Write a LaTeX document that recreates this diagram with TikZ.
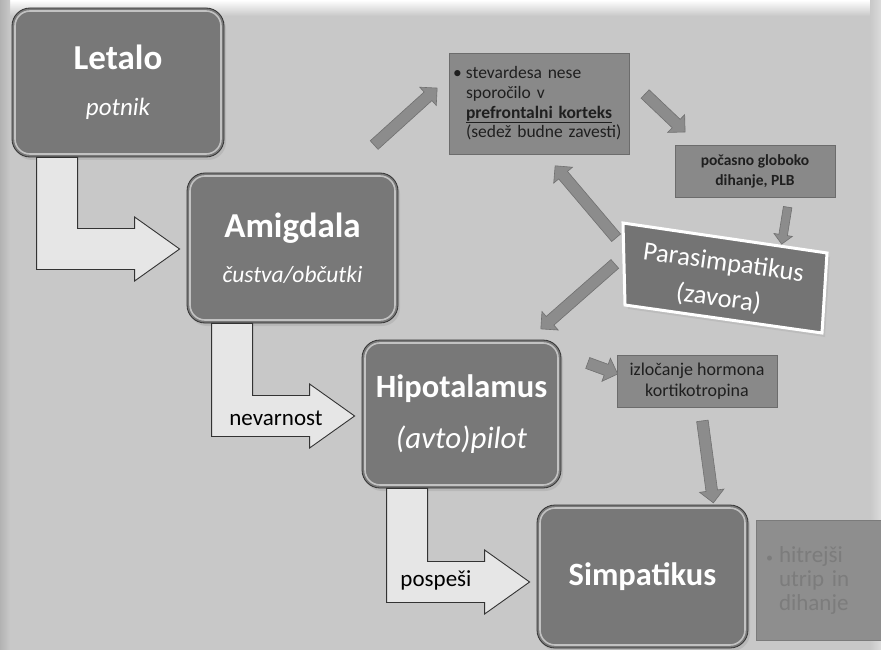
\documentclass[tikz,border=0pt]{standalone}
\usepackage{fontspec}
\setmainfont{Carlito}
\usetikzlibrary{calc,shapes.arrows,shadows}

\definecolor{bgc}{HTML}{C8C8C8}
\definecolor{boxc}{HTML}{787878}
\definecolor{notec}{HTML}{898989}
\definecolor{noteline}{HTML}{6C6C6C}
\definecolor{arrowc}{HTML}{8C8C8C}
\definecolor{arrowline}{HTML}{707070}
\definecolor{elbowc}{HTML}{E6E6E6}
\definecolor{fadedtext}{HTML}{7C7C7C}

\tikzset{
  bigbox/.style={rounded corners=18pt, draw=black!80, line width=0.8pt,
    fill=boxc, text=white, align=center, inner sep=0pt,
    drop shadow={shadow xshift=2pt, shadow yshift=-3pt, fill=black!35, opacity=0.45},
    path picture={\draw[white!55!boxc, line width=1.6pt, rounded corners=15pt]
      ([shift={(3,3)}]path picture bounding box.north west) rectangle
      ([shift={(-3,-3)}]path picture bounding box.south east);}},
  notebox/.style={draw=noteline, fill=notec, line width=0.8pt, text=black!88,
    inner sep=0pt, align=center},
  elbowarrow/.style={draw=black!80, fill=elbowc, line width=0.9pt, line join=miter},
  grayarrow/.style={single arrow, draw=arrowline, fill=arrowc, line width=0.6pt,
    inner xsep=0pt, inner ysep=5.5pt, text height=0pt, text depth=0pt, text width=0pt,
    single arrow head extend=6.5pt, single arrow head indent=0pt, minimum width=0pt},
  thinarrow/.style={inner ysep=4pt, single arrow head extend=5pt},
  elbowlabel/.style={text=black, font=\fontsize{23}{26}\selectfont, inner sep=0pt},
}

% block arrow laid between two named points
\newcommand{\blockarrow}[3][]{%
  \path let \p1=($(#3)-(#2)$), \n1={atan2(\y1,\x1)}, \n2={veclen(\x1,\y1)} in
    node[grayarrow,#1,minimum height=\n2,rotate=\n1] at ($(#2)!0.5!(#3)$) {};}

% bent block arrow from the bottom of one box into the left side of the next
\newcommand{\elbow}[3]{%
  \draw[elbowarrow]
    ($(#1.south west)+(25,0)$) coordinate (s) -- ++(41,0)
    |- ($(#2.west)+(-52,#3-20.5)$) -- ++(0,-11.5)
    -- ($(#2.west)+(-7,#3)$)
    -- ($(#2.west)+(-52,#3+32)$) -- ++(0,-11.5)
    -| (s) -- cycle;}

\begin{document}
\begin{tikzpicture}[x=1pt,y=-1pt]
  \useasboundingbox (0,0) rectangle (881,650);

  % backdrop
  \fill[bgc] (0,0) rectangle (881,650);
  \shade[top color=white, bottom color=bgc] (0,0) rectangle (881,16);
  \shade[left color=black!30, right color=bgc] (0,0) rectangle (10,650);
  \shade[left color=bgc, right color=white!35!bgc] (870,0) rectangle (881,650);

  % main chain of boxes
  \node[bigbox, minimum width=212pt, minimum height=149pt,
        font=\fontsize{25}{46}\selectfont] (letalo) at (118,82.5)
    {\fontsize{35}{46}\selectfont\bfseries Letalo\\
     \itshape potnik};
  \node[bigbox, minimum width=211pt, minimum height=150pt,
        font=\fontsize{23.5}{44.5}\selectfont] (amig) at (292.5,248)
    {\fontsize{35}{44.5}\selectfont\bfseries Amigdala\\
     \itshape čustva/občutki};
  \node[bigbox, minimum width=199pt, minimum height=148pt,
        font=\fontsize{31}{51}\selectfont] (hipo) at (461.5,414)
    {\fontsize{32.5}{51}\selectfont\bfseries Hipotalamus\\
     \itshape (avto)pilot};
  \node[bigbox, minimum width=211pt, minimum height=143pt,
        font=\fontsize{32.5}{38}\selectfont\bfseries] (simp) at (642.5,576.5)
    {Simpatikus};

  % bent arrows between the boxes
  \elbow{letalo}{amig}{1}
  \elbow{amig}{hipo}{2}
  \elbow{hipo}{simp}{5.5}
  \node[elbowlabel] (lbl1) at (276,418) {nevarnost};
  \node[elbowlabel] (lbl2) at (436,580) {pospeši};

  % side notes
  \node[notebox, minimum width=180pt, minimum height=101pt, text width=172pt, align=left,
        font=\fontsize{17.5}{19.7}\selectfont] (stev) at (539,103.5)
    {\makebox[13pt][l]{\textbullet}stevardesa nese\\
     \hspace*{13pt}sporočilo v\\
     \hspace*{13pt}\textbf{\underline{prefrontalni korteks}}\\
     \hspace*{13pt}(sedež budne zavesti)};
  \node[notebox, minimum width=160pt, minimum height=52pt,
        font=\fontsize{15.5}{20}\selectfont\bfseries] (plb) at (755,171)
    {počasno globoko\\dihanje, PLB};
  \node[notebox, minimum width=160pt, minimum height=52pt,
        font=\fontsize{18}{21}\selectfont] (izl) at (697,381)
    {izločanje hormona\\kortikotropina};
  \node[notebox, draw=notec!90!black, fill=notec!96!white, text=fadedtext,
        minimum width=135pt, minimum height=120pt, text width=115pt, align=left,
        font=\fontsize{23}{24}\selectfont] (hitr) at (823.5,580)
    {\makebox[13pt][l]{\fontsize{14}{24}\selectfont\textbullet}hitrejši\\
     \hspace*{13pt}utrip in\\
     \hspace*{13pt}dihanje};

  % brake panel
  \fill[black!30, opacity=0.5] (626,227) -- (830,257) -- (825,337) -- (628,309) -- cycle;
  \draw[draw=white, line width=3pt, fill=boxc!103, line join=miter]
    (623,223) -- (827,253) -- (822,333) -- (625,305) -- cycle;
  \node[text=white, align=center, rotate=-8, inner sep=0pt,
        font=\fontsize{26.5}{36}\selectfont] (para) at (721,281)
    {Parasimpatikus\\(zavora)};

  % arrow end points
  \coordinate (a1s) at (372,147);  \coordinate (a1e) at (435,90);
  \coordinate (a2s) at (643,92);   \coordinate (a2e) at (683,130);
  \coordinate (a3s) at (788,205);  \coordinate (a3e) at (782,242);
  \coordinate (a4s) at (618,240);  \coordinate (a4e) at (557,168);
  \coordinate (a5s) at (617,262);  \coordinate (a5e) at (543,327);
  \coordinate (a6s) at (585,362);  \coordinate (a6e) at (615,373);
  \coordinate (a7s) at (702,418);  \coordinate (a7e) at (713,500);

  \blockarrow{a1s}{a1e}
  \blockarrow{a2s}{a2e}
  \blockarrow[thinarrow]{a3s}{a3e}
  \blockarrow{a4s}{a4e}
  \blockarrow{a5s}{a5e}
  \blockarrow{a6s}{a6e}
  \blockarrow{a7s}{a7e}
\end{tikzpicture}
\end{document}
